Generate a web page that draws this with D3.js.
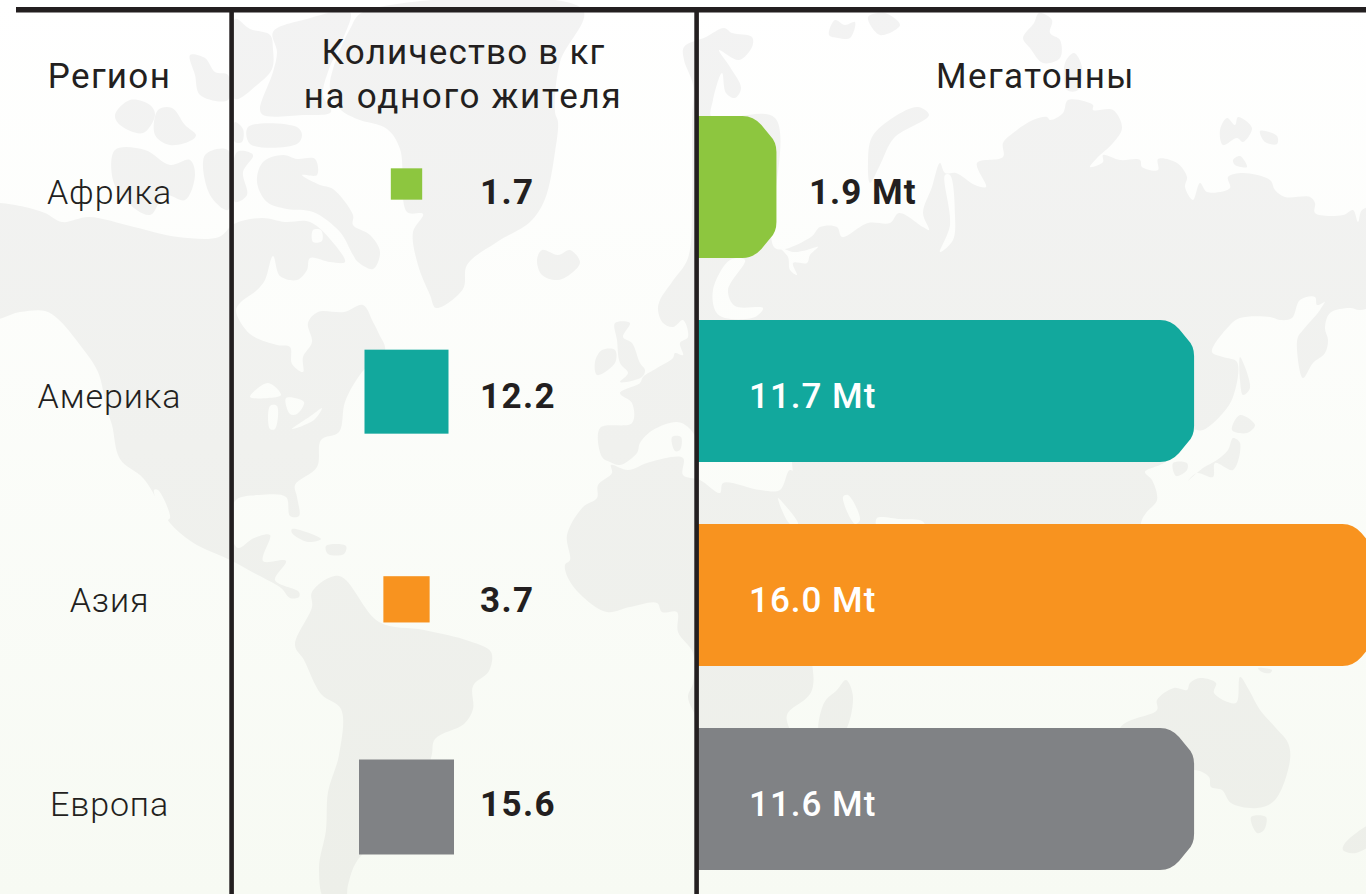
<!DOCTYPE html>
<html>
<head>
<meta charset="utf-8">
<script src="https://cdn.jsdelivr.net/npm/d3@7"></script>
<style>
html, body { margin: 0; padding: 0; background: #fff; overflow: hidden; }
svg { display: block; }
text { font-family: Roboto, sans-serif; fill: #231f20; }
</style>
</head>
<body>
<div id="chart"></div>
<script>
var regions = ["Африка", "Америка", "Азия", "Европа"];
var perPerson = [1.7, 12.2, 3.7, 15.6];
var perPersonLabels = ["1.7", "12.2", "3.7", "15.6"];
// bar lengths (the 11.6 bar is drawn as long as the 11.7 one)
var megatonBars = [1.85, 11.7, 16.0, 11.7];
var megatonLabels = ["1.9 Mt", "11.7 Mt", "16.0 Mt", "11.6 Mt"];
var colors = ["#8dc63f", "#12a89d", "#f8931f", "#808285"];

// faint world map behind the table in page pixels
var land = [
    // north america
    [[0,203],[25,207],[45,213],[62,222],[89,217],[134,227],[178,237],[219,237],[234,224],[262,218],[285,222],[310,222],[335,245],[345,262],[330,262],[310,258],[307,270],[297,280],[280,276],[273,256],[265,280],[257,290],[240,303],[236,311],[250,334],[277,345],[290,347],[292,364],[303,372],[303,357],[312,342],[308,323],[318,312],[344,312],[363,305],[373,322],[379,334],[385,350],[362,372],[345,402],[339,432],[321,440],[317,467],[295,485],[297,497],[299,516],[290,516],[286,497],[259,495],[237,499],[231,510],[231,535],[238,548],[254,538],[270,535],[263,561],[286,561],[275,580],[299,592],[299,597],[290,598],[281,588],[254,573],[232,561],[192,542],[170,523],[160,505],[143,478],[120,459],[112,425],[107,410],[98,372],[80,345],[58,319],[45,311],[20,312],[-10,318],[-10,203]],
    // south america
    [[312,592],[339,576],[379,622],[424,630],[469,641],[491,652],[489,671],[473,686],[473,709],[464,724],[435,739],[431,758],[400,820],[357,861],[348,885],[345,900],[325,900],[319,868],[326,830],[328,792],[339,755],[341,709],[321,694],[304,660],[295,645],[312,607]],
    // greenland
    [[363,12],[350,29],[333,69],[330,89],[340,109],[357,119],[387,129],[400,149],[407,212],[423,214],[413,232],[418,265],[430,295],[436,308],[463,289],[467,265],[497,242],[530,222],[545,199],[555,152],[558,122],[555,112],[560,62],[583,10]],
    // arctic canada
    [[273,32],[307,19],[350,12],[343,39],[329,69],[323,95],[331,112],[303,115],[263,115],[260,109],[273,72],[277,52]],
    [[235,19],[250,29],[270,35],[273,49],[272,69],[257,85],[235,99]],
    [[248,127],[297,127],[302,135],[297,144],[250,144]],
    [[235,122],[243,129],[242,142],[235,142]],
    [[257,182],[263,162],[283,155],[297,159],[315,159],[317,175],[302,175],[320,185],[333,189],[353,215],[353,225],[370,235],[380,252],[373,269],[358,262],[353,255],[340,232],[313,212],[287,209],[267,202]],
    [[237,152],[253,155],[243,172],[247,195],[235,202]],
    [[190,55],[205,58],[215,72],[228,75],[228,100],[200,95],[195,75]],
    [[115,115],[130,100],[150,105],[155,115],[143,133],[120,125]],
    [[158,110],[172,108],[185,125],[196,135],[192,140],[170,145],[155,135]],
    [[115,150],[145,150],[170,165],[190,160],[195,175],[185,200],[165,195],[150,215],[125,200],[113,180]],
    [[205,155],[228,150],[228,210],[210,195]],
    // cuba, hispaniola
    [[292,529],[321,539],[308,542],[292,533]],
    [[326,546],[346,546],[344,554],[328,554]],
    // iceland, britain, ireland, corsica
    [[537,260],[542,250],[558,255],[570,250],[580,262],[573,272],[558,280],[542,275]],
    [[615,323],[630,323],[623,337],[632,343],[640,363],[645,370],[642,377],[620,382],[628,373],[620,363],[617,340]],
    [[602,350],[615,350],[615,363],[597,375],[595,362]],
    [[672,437],[681,437],[680,450],[675,451]],
    // eurasia
    [[600,428],[632,423],[632,403],[620,393],[640,383],[643,377],[657,368],[673,358],[675,353],[683,355],[680,343],[688,337],[683,320],[673,327],[663,323],[658,310],[660,300],[672,282],[688,258],[692,200],[692,120],[693,85],[684,60],[684,47],[706,37],[724,28],[732,33],[752,37],[752,47],[739,60],[719,50],[730,67],[741,88],[735,98],[726,93],[722,73],[713,100],[712,118],[775,118],[775,248],[811,237],[820,227],[837,227],[842,237],[868,223],[890,223],[899,213],[923,227],[929,230],[923,213],[932,187],[940,163],[945,173],[956,173],[975,185],[986,187],[977,163],[1003,157],[1003,143],[1013,133],[1033,120],[1047,117],[1050,120],[1063,113],[1068,100],[1093,105],[1093,110],[1113,110],[1122,128],[1113,143],[1097,158],[1090,167],[1103,162],[1103,155],[1120,160],[1140,160],[1142,167],[1158,170],[1158,159],[1177,163],[1187,177],[1185,187],[1193,200],[1200,183],[1207,192],[1230,188],[1228,177],[1243,173],[1270,180],[1275,190],[1285,197],[1310,197],[1315,203],[1315,213],[1343,215],[1353,210],[1358,222],[1362,210],[1375,208],[1375,303],[1360,310],[1350,308],[1330,313],[1325,328],[1328,340],[1325,353],[1313,363],[1303,378],[1297,350],[1298,337],[1303,330],[1320,310],[1333,288],[1330,297],[1317,305],[1315,297],[1300,300],[1292,318],[1280,320],[1270,317],[1240,318],[1230,325],[1212,352],[1223,357],[1237,362],[1233,397],[1223,413],[1203,430],[1193,430],[1175,445],[1165,462],[1145,472],[1152,480],[1157,500],[1146,513],[1141,523],[1140,600],[800,600],[795,490],[792,463],[792,455],[700,455],[697,440],[688,427],[677,422],[653,430],[640,443],[637,453],[620,465],[610,462],[602,457]],
    // africa
    [[611,465],[628,470],[650,462],[683,458],[683,475],[700,480],[720,493],[723,483],[760,490],[780,490],[790,470],[800,480],[800,600],[812,690],[787,715],[790,740],[700,740],[697,720],[688,697],[693,683],[693,653],[678,632],[677,612],[662,612],[657,603],[630,607],[607,612],[583,597],[568,578],[565,565],[570,560],[567,535],[583,507],[597,498],[598,485],[612,473]],
    // madagascar
    [[846,680],[853,697],[842,735],[820,735],[824,703],[837,690]],
    // korea, sakhalin, japan
    [[1173,463],[1187,463],[1187,470],[1176,476]],
    [[1240,357],[1250,388],[1243,395],[1240,380]],
    [[1240,415],[1255,425],[1247,433],[1232,430]],
    [[1233,438],[1240,443],[1233,470],[1215,463],[1213,477],[1197,473],[1187,482],[1203,468],[1217,460],[1228,450]],
    // arctic islands
    [[829,35],[835,20],[845,25],[855,22],[850,38],[838,38]],
    [[868,17],[885,13],[900,25],[880,35]],
    [[929,115],[918,107],[894,117],[872,137],[868,163],[870,183],[880,165],[894,138]],
    [[1039,13],[1052,20],[1050,33],[1060,40],[1060,58],[1043,63],[1030,48],[1023,38],[1034,23]],
    [[1065,63],[1074,53],[1082,67],[1078,90],[1067,90]],
    [[1220,130],[1227,118],[1235,125],[1238,117],[1252,128],[1243,142],[1237,138],[1223,145]],
    [[1260,131],[1277,136],[1277,144],[1265,142]],
    [[1233,160],[1240,156],[1247,167],[1235,165]],
    // australia, tasmania, new zealand, new guinea tail
    [[1120,728],[1157,710],[1157,700],[1174,688],[1187,690],[1190,683],[1200,678],[1216,683],[1214,693],[1236,703],[1240,677],[1249,690],[1260,710],[1275,727],[1288,743],[1290,760],[1275,800],[1257,808],[1231,803],[1222,790],[1211,787],[1209,777],[1194,770],[1120,790]],
    [[1251,817],[1266,817],[1264,830],[1257,833]],
    [[1375,823],[1345,843],[1343,850],[1356,853],[1375,840]],
    [[1258,668],[1272,670],[1270,673],[1262,672]]
];
var water = [
    // great lakes
    [[250,397],[268,383],[281,395],[268,398]],
    [[270,406],[277,406],[275,429],[270,429]],
    [[286,398],[304,402],[297,414],[290,414]],
    [[292,429],[312,415],[322,408],[314,420]],
    // foxe basin, gulf of california
    [[313,230],[321,230],[322,241],[313,242]],
    [[154,490],[158,490],[170,518],[166,520]],
    // baltic, white sea, ob
    [[730,260],[745,260],[728,290],[735,306],[763,308],[755,317],[725,318],[716,312],[713,290]],
    [[780,247],[788,257],[790,270],[797,275],[793,263],[807,263],[810,255],[818,247],[807,250],[793,252]],
    [[945,175],[950,175],[955,215],[953,240],[940,252],[950,225]],
    // red sea, gulf, arabian sea
    [[778,498],[784,504],[798,524],[790,524]],
    [[843,497],[848,495],[860,520],[855,524]],
    [[877,518],[900,519],[922,521],[925,526],[877,526]]
];

var width = 1366,
    height = 894;

var svg = d3.select("#chart")
    .append("svg")
    .attr("width", width)
    .attr("height", height);

var defs = svg.append("defs");

function gradient(id, top, bottom) {
    var g = defs.append("linearGradient")
        .attr("id", id)
        .attr("gradientUnits", "userSpaceOnUse")
        .attr("x1", 0).attr("y1", 0)
        .attr("x2", 0).attr("y2", height);
    g.append("stop").attr("offset", 0).attr("stop-color", top);
    g.append("stop").attr("offset", 1).attr("stop-color", bottom);
}
gradient("sea", "#ffffff", "#f7faf3");
gradient("ground", "#f3f3f3", "#edefe9");

svg.append("rect")
    .attr("width", width)
    .attr("height", height)
    .attr("fill", "url(#sea)");

var outline = d3.line().curve(d3.curveCatmullRomClosed.alpha(0.5));

svg.append("g")
    .selectAll("path")
    .data(land)
    .enter()
    .append("path")
    .attr("d", outline)
    .attr("fill", "url(#ground)");

svg.append("g")
    .selectAll("path")
    .data(water)
    .enter()
    .append("path")
    .attr("d", outline)
    .attr("fill", "url(#sea)");

var rows = d3.range(regions.length);

var barY = d3.scaleBand()
    .domain(rows)
    .range([116, 870])
    .paddingInner(62 / 204)
    .paddingOuter(0);

var squareY = d3.scalePoint()
    .domain(rows)
    .range([184, 807]);

var barX = d3.scaleLinear()
    .domain([0, 16])
    .range([698, 1376.4]);

var side = d3.scaleSqrt()
    .domain([0, 16])
    .range([0, 96.2]);

function barPath(i) {
    var x0 = barX(0),
        r = barX(megatonBars[i]),
        t = barY(i),
        b = t + barY.bandwidth();
    return "M" + x0 + "," + t +
        "L" + (r - 34) + "," + t +
        "Q" + (r - 23) + "," + t + " " + (r - 15) + "," + (t + 9) +
        "L" + (r - 6) + "," + (t + 20) +
        "Q" + r + "," + (t + 26) + " " + r + "," + (t + 36) +
        "L" + r + "," + (b - 36) +
        "Q" + r + "," + (b - 26) + " " + (r - 6) + "," + (b - 20) +
        "L" + (r - 15) + "," + (b - 9) +
        "Q" + (r - 23) + "," + b + " " + (r - 34) + "," + b +
        "L" + x0 + "," + b + "Z";
}

svg.append("g")
    .selectAll("path")
    .data(rows)
    .enter()
    .append("path")
    .attr("d", barPath)
    .attr("fill", function (i) { return colors[i]; });

svg.append("g")
    .selectAll("rect")
    .data(rows)
    .enter()
    .append("rect")
    .attr("x", function (i) { return 406.5 - side(perPerson[i]) / 2; })
    .attr("y", function (i) { return squareY(i) - side(perPerson[i]) / 2; })
    .attr("width", function (i) { return side(perPerson[i]); })
    .attr("height", function (i) { return side(perPerson[i]); })
    .attr("fill", function (i) { return colors[i]; });

// frame lines
svg.append("rect").attr("x", 16).attr("y", 7).attr("width", width - 16).attr("height", 5.5).attr("fill", "#231f20");
svg.append("rect").attr("x", 229.3).attr("y", 12).attr("width", 4.6).attr("height", height).attr("fill", "#231f20");
svg.append("rect").attr("x", 694.3).attr("y", 12).attr("width", 4.6).attr("height", height).attr("fill", "#231f20");

function textBaseline(i) { return barY(i) + barY.bandwidth() / 2 + 17; }

// headers
svg.append("text").attr("x", 109.5).attr("y", 88).attr("text-anchor", "middle")
    .style("font-size", "35px").style("letter-spacing", "1.3px").text("Регион");
svg.append("text").attr("x", 463.5).attr("y", 64).attr("text-anchor", "middle")
    .style("font-size", "35px").style("letter-spacing", "1.2px").text("Количество в кг");
svg.append("text").attr("x", 463).attr("y", 108).attr("text-anchor", "middle")
    .style("font-size", "35px").style("letter-spacing", "1.7px").text("на одного жителя");
svg.append("text").attr("x", 1035.5).attr("y", 88).attr("text-anchor", "middle")
    .style("font-size", "35px").style("letter-spacing", "1.4px").text("Мегатонны");

// region names
svg.append("g")
    .selectAll("text")
    .data(rows)
    .enter()
    .append("text")
    .attr("x", 109.5)
    .attr("y", textBaseline)
    .attr("text-anchor", "middle")
    .style("font-size", "34px")
    .style("font-weight", 300)
    .style("letter-spacing", "0.9px")
    .text(function (i) { return regions[i]; });

// per person values
svg.append("g")
    .selectAll("text")
    .data(rows)
    .enter()
    .append("text")
    .attr("x", 480)
    .attr("y", textBaseline)
    .style("font-size", "35px")
    .style("font-weight", 700)
    .style("letter-spacing", "1.4px")
    .text(function (i) { return perPersonLabels[i]; });

// megaton labels, outside the bar when it is too short
svg.append("g")
    .selectAll("text")
    .data(rows)
    .enter()
    .append("text")
    .attr("x", function (i) { return i === 0 ? 809 : 749; })
    .attr("y", textBaseline)
    .style("font-size", "35px")
    .style("font-weight", function (i) { return i === 0 ? 700 : 500; })
    .style("letter-spacing", "1px")
    .style("fill", function (i) { return i === 0 ? "#231f20" : "#ffffff"; })
    .text(function (i) { return megatonLabels[i]; });
</script>
</body>
</html>
